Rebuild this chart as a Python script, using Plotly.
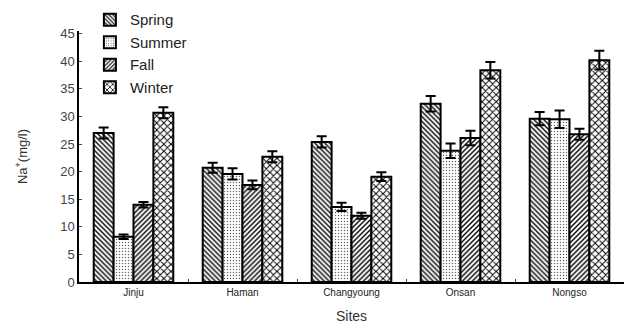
import plotly.graph_objects as go

sites = ["Jinju", "Haman", "Changyoung", "Onsan", "Nongso"]
seasons = ["Spring", "Summer", "Fall", "Winter"]

spring = [27.0, 20.7, 25.4, 32.3, 29.6]
summer = [8.2, 19.6, 13.6, 23.8, 29.5]
fall = [14.0, 17.6, 12.0, 26.1, 26.8]
winter = [30.7, 22.7, 19.1, 38.4, 40.2]

spring_err = [1.0, 0.9, 1.0, 1.4, 1.2]
summer_err = [0.4, 1.0, 0.75, 1.3, 1.6]
fall_err = [0.5, 0.8, 0.55, 1.3, 1.0]
winter_err = [1.0, 1.0, 0.8, 1.5, 1.7]

y_ticks = [0, 5, 10, 15, 20, 25, 30, 35, 40, 45]

values = [spring, summer, fall, winter]
errors = [spring_err, summer_err, fall_err, winter_err]
patterns = [
    dict(shape="\\", size=3.5, solidity=0.4, fgcolor="black"),
    dict(shape=".", size=3, solidity=0.18, fgcolor="#666"),
    dict(shape="/", size=3.5, solidity=0.4, fgcolor="black"),
    dict(shape="x", size=5, solidity=0.35, fgcolor="black"),
]

fig = go.Figure()
for name, vals, err, pat in zip(seasons, values, errors, patterns):
    fig.add_trace(go.Bar(
        name=name,
        x=sites,
        y=vals,
        marker=dict(
            color="white",
            line=dict(color="black", width=2),
            pattern=dict(fillmode="replace", bgcolor="white", **pat),
        ),
        error_y=dict(type="data", array=err, color="black", thickness=2, width=5),
    ))

font_family = "Liberation Sans, Arial, sans-serif"

fig.update_layout(
    width=627,
    height=336,
    margin=dict(l=79, r=3, t=29, b=54),
    plot_bgcolor="white",
    paper_bgcolor="white",
    barmode="group",
    bargap=0.27,
    bargroupgap=0,
    font=dict(family=font_family, color="#222"),
    showlegend=True,
    legend=dict(
        x=0.02, y=1.11, xanchor="left", yanchor="top",
        bgcolor="rgba(0,0,0,0)",
        font=dict(size=15, color="#222"),
        tracegroupgap=0,
        itemwidth=30,
    ),
    xaxis=dict(
        showline=True, linecolor="black", linewidth=1.5,
        ticks="inside", ticklen=3, tickson="boundaries", tickcolor="#444",
        tickfont=dict(size=10, color="#222"),
        title=dict(text="Sites", font=dict(size=14, color="#333"), standoff=14),
        range=[-0.5, 4.5],
    ),
    yaxis=dict(
        range=[0, 45.5],
        tickvals=y_ticks,
        showline=True, linecolor="black", linewidth=1.5,
        ticks="inside", ticklen=3, tickcolor="#444",
        showgrid=False, zeroline=False,
        tickfont=dict(size=13, color="#444"),
        title=dict(text="Na<sup>+</sup>(mg/l)", font=dict(size=13, color="#333"), standoff=30),
    ),
)

fig.write_html("out.html")
